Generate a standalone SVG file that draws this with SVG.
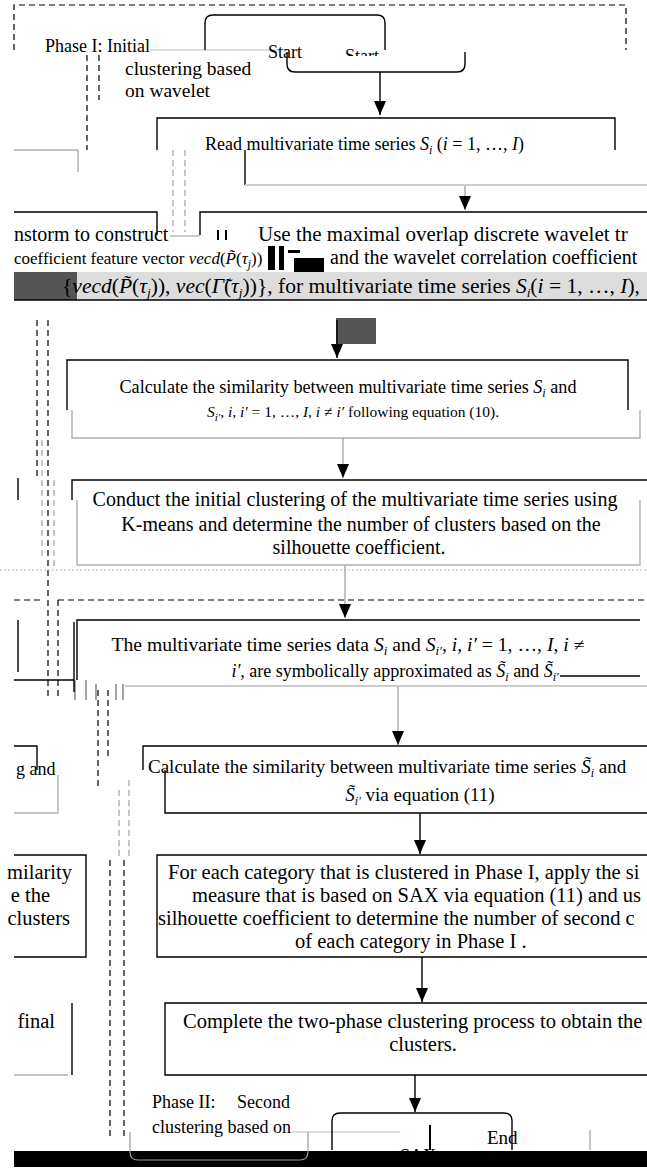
<svg xmlns="http://www.w3.org/2000/svg" width="647" height="1169" viewBox="0 0 647 1169" font-size="18">
<defs>
<style>
.t{font-family:"Liberation Serif","Times New Roman",serif;fill:#000}
.m{font-style:italic}
.box{fill:none;stroke:#000;stroke-width:1.4}
.gbox{fill:none;stroke:#b0b0b0;stroke-width:1.4}
.dash{fill:none;stroke:#000;stroke-width:1.2;stroke-dasharray:6,4}
.gdash{fill:none;stroke:#999;stroke-width:1.1;stroke-dasharray:6,4}
.conn{fill:none;stroke:#000;stroke-width:1.4}
.gconn{fill:none;stroke:#aaa;stroke-width:1.4}
</style>
<marker id="ah" markerWidth="14" markerHeight="12" refX="14" refY="6" orient="auto" markerUnits="userSpaceOnUse">
<path d="M0,0 L14,6 L0,12 z" fill="#000"/>
</marker>
<clipPath id="topclip"><rect x="0" y="0" width="647" height="56"/></clipPath>
</defs>

<g id="phase1">
<path class="dash" d="M14,50 V5 H626 V50"/>
<text class="t" x="45" y="52">Phase I: Initial</text>
<text class="t" x="125" y="75" font-size="19.5">clustering based</text>
<text class="t" x="125" y="97" font-size="19.5">on wavelet</text>
<line x1="150" y1="50" x2="287" y2="50" stroke="#bbb" stroke-width="1.2"/>
<path class="dash" d="M87,55 V150 M99,55 V100"/>
<path class="gdash" d="M173,150 V232 M185,150 V232"/>
<path class="dash" d="M37,320 V480 M48,320 V600"/>
<path class="gdash" d="M42,440 V560 M54,480 V570"/>
<line x1="0" y1="570" x2="647" y2="570" stroke="#bbb" stroke-width="1.2" stroke-dasharray="2,2"/>
</g>

<g id="start">
<path class="box" d="M205,50 V23 Q205,15 213,15 H377 Q385,15 385,23 V50"/>
<path class="box" d="M287,52 V64 Q287,72 295,72 H457 Q465,72 465,64 V52"/>
<text class="t" x="268" y="58">Start</text>
<text class="t" x="345" y="62" clip-path="url(#topclip)">Start</text>
</g>

<g id="read">
<path class="box" d="M157,150 V118 H615 V150"/>
<path class="box" d="M245,150 V185"/>
<line x1="245" y1="185" x2="647" y2="185" stroke="#ccc" stroke-width="2"/>
<text class="t" x="205" y="150">Read multivariate time series <tspan class="m">S</tspan><tspan dy="4" font-size="12" class="m">i</tspan><tspan dy="-4"> (</tspan><tspan class="m">i</tspan> = 1, …, <tspan class="m">I</tspan>)</text>
<path class="gbox" d="M14,150 H78 V172"/>
</g>

<g id="wavelet">
<path class="box" d="M14,212 H157 V235"/>
<path class="box" d="M200,235 V212 H647"/>
<text class="t" x="14" y="241" font-size="20">nstorm to construct</text>
<line x1="170" y1="236" x2="200" y2="236" stroke="#ccc" stroke-width="2"/>
<path d="M218,230 V240 M226,230 V240" stroke="#000" stroke-width="2"/>
<text class="t" x="258" y="241" font-size="21">Use the maximal overlap discrete wavelet tr</text>
<text class="t" x="14" y="264" font-size="17">coefficient feature vector <tspan class="m">vecd</tspan>(<tspan class="m">P̃</tspan>(<tspan class="m">τ</tspan><tspan dy="4" font-size="12" class="m">j</tspan><tspan dy="-4">))</tspan></text>
<rect x="268" y="246" width="7" height="24" fill="#000"/>
<rect x="279" y="246" width="5" height="24" fill="#000"/>
<rect x="288" y="250" width="12" height="3" fill="#000"/>
<rect x="294" y="258" width="30" height="14" fill="#000"/>
<text class="t" x="330" y="264" font-size="20">and the wavelet correlation coefficient</text>
<rect x="14" y="272" width="63" height="28" fill="#555"/>
<rect x="77" y="272" width="570" height="28" fill="#ddd"/>
<text class="t" x="62" y="293" font-size="21" textLength="578" lengthAdjust="spacingAndGlyphs">{<tspan class="m">vecd</tspan>(<tspan class="m">P̃</tspan>(<tspan class="m">τ</tspan><tspan dy="4" font-size="13" class="m">j</tspan><tspan dy="-4">)), </tspan><tspan class="m">vec</tspan>(<tspan class="m">Γ̃</tspan>(<tspan class="m">τ</tspan><tspan dy="4" font-size="13" class="m">j</tspan><tspan dy="-4">))}, for multivariate time series </tspan><tspan class="m">S</tspan><tspan dy="4" font-size="13" class="m">i</tspan><tspan dy="-4">(</tspan><tspan class="m">i</tspan> = 1, …, <tspan class="m">I</tspan>),</text>
<line x1="14" y1="300" x2="647" y2="300" stroke="#000" stroke-width="1.4"/>
</g>

<g id="sim10">
<path class="box" d="M67,410 V360 H628 V410"/>
<path class="gbox" d="M72,410 V438 H640 V410"/>
<text class="t" x="348" y="393" text-anchor="middle" textLength="457" lengthAdjust="spacingAndGlyphs">Calculate the similarity between multivariate time series <tspan class="m">S</tspan><tspan dy="4" font-size="12" class="m">i</tspan><tspan dy="-4">  and</tspan></text>
<text class="t" x="353" y="417" text-anchor="middle" font-size="15.5"><tspan class="m">S</tspan><tspan dy="4" font-size="11" class="m">i′</tspan><tspan dy="-4">, </tspan><tspan class="m">i</tspan>, <tspan class="m">i′</tspan> = 1, …, <tspan class="m">I</tspan>, <tspan class="m">i</tspan> ≠ <tspan class="m">i′</tspan> following equation (10).</text>
</g>

<g id="conduct">
<path class="box" d="M72,500 V480 H647"/>
<path class="gbox" d="M77,500 V565 H640 V500"/>
<line x1="18" y1="478" x2="18" y2="500" stroke="#000" stroke-width="1.4"/>
<text class="t" x="355" y="506" text-anchor="middle" font-size="20">Conduct the initial clustering of the multivariate time series using</text>
<text class="t" x="361" y="531" text-anchor="middle" font-size="20">K-means and determine the number of clusters based on the</text>
<text class="t" x="359" y="554" text-anchor="middle" font-size="20">silhouette coefficient.</text>
</g>

<g id="phase2">
<path class="dash" d="M14,600 H40 M58,600 H647"/>
<path class="dash" d="M48,600 V700 M58,600 V700"/>
<path class="dash" d="M98,690 V790 M108,690 V760"/>
<path class="gdash" d="M119,790 V860 M129,780 V860"/>
<path class="dash" d="M110,860 V1140 M124,860 V1140"/>
<path d="M75,680 V700 M86,680 V700 M96,684 V700 M116,684 V700 M123,684 V700" stroke="#666" stroke-width="1.2"/>
<text class="t" x="152" y="1108">Phase II:</text>
<text class="t" x="237" y="1108">Second</text>
<text class="t" x="152" y="1133">clustering based on</text>
<line x1="292" y1="1132" x2="400" y2="1132" stroke="#bbb" stroke-width="1.2"/>
</g>

<g id="symbolic">
<path class="box" d="M77,680 V620 H640"/>
<line x1="560" y1="676" x2="640" y2="676" stroke="#000" stroke-width="1.4"/>
<line x1="125" y1="686" x2="647" y2="686" stroke="#bbb" stroke-width="1.4"/>
<path class="box" d="M18,620 V672 M14,680 H74 M74,622 V692"/>
<text class="t" x="348" y="651" text-anchor="middle" textLength="473" lengthAdjust="spacingAndGlyphs">The multivariate time series data <tspan class="m">S</tspan><tspan dy="4" font-size="12" class="m">i</tspan><tspan dy="-4"> and </tspan><tspan class="m">S</tspan><tspan dy="4" font-size="12" class="m">i′</tspan><tspan dy="-4">, </tspan><tspan class="m">i</tspan>, <tspan class="m">i′</tspan> = 1, …, <tspan class="m">I</tspan>, <tspan class="m">i</tspan> ≠</text>
<text class="t" x="395" y="677" text-anchor="middle" fill="#333"><tspan class="m">i′</tspan>, are symbolically approximated as <tspan class="m">S̃</tspan><tspan dy="4" font-size="12" class="m">i</tspan><tspan dy="-4"> and </tspan><tspan class="m">S̃</tspan><tspan dy="4" font-size="12" class="m">i′</tspan></text>
</g>

<g id="sim11">
<path class="box" d="M143,770 V746 H647"/>
<path class="box" d="M165,770 V813 H647"/>
<text class="t" x="148" y="773" font-size="19">Calculate the similarity between multivariate time series <tspan class="m">S̃</tspan><tspan dy="4" font-size="12" class="m">i</tspan><tspan dy="-4"> and</tspan></text>
<text class="t" x="420" y="801" text-anchor="middle" font-size="19"><tspan class="m">S̃</tspan><tspan dy="4" font-size="12" class="m">i′</tspan><tspan dy="-4">  via equation (11)</tspan></text>
<path class="box" d="M14,746 H37 V770"/>
<text class="t" x="16" y="775">g and</text>
<path class="gbox" d="M58,775 V813 H14"/>
</g>

<g id="category">
<path class="box" d="M647,855 H157 V957 H647"/>
<text class="t" x="168" y="879" font-size="20.5">For each category that is clustered in Phase I, apply the si</text>
<text class="t" x="192" y="902" font-size="20.5">measure that is based on SAX via equation (11) and us</text>
<text class="t" x="158" y="925" font-size="20.5">silhouette coefficient to determine the number of second c</text>
<text class="t" x="295" y="948" font-size="20.5">of each category in Phase I .</text>
<path class="box" d="M14,855 H86 V957 H14"/>
<text class="t" x="72" y="879" font-size="20.5" text-anchor="end">milarity</text>
<text class="t" x="50" y="902" font-size="20.5" text-anchor="end">e the</text>
<text class="t" x="70" y="925" font-size="20.5" text-anchor="end">clusters</text>
</g>

<g id="complete">
<path class="box" d="M647,1003 H165 V1075 H647"/>
<text class="t" x="183" y="1028" font-size="20.5">Complete the two-phase clustering process to obtain the</text>
<text class="t" x="423" y="1051" font-size="20.5" text-anchor="middle">clusters.</text>
<text class="t" x="55" y="1028" font-size="20.5" text-anchor="end">final</text>
<path class="gbox" d="M14,1075 H68"/>
<path class="box" d="M72,1003 V1075"/>
</g>

<g id="end">
<rect x="14" y="1151" width="633" height="16" fill="#000"/>
<path class="box" d="M332,1150 V1121 Q332,1113 340,1113 H504 Q512,1113 512,1121 V1150"/>
<text class="t" x="487" y="1144" font-size="19">End</text>
<line x1="430" y1="1125" x2="430" y2="1150" stroke="#000" stroke-width="2"/>
<line x1="590" y1="1130" x2="590" y2="1150" stroke="#888" stroke-width="1"/>
<text class="t" x="400" y="1162">SAX</text>
<path d="M130,1132 V1152 Q130,1160 138,1160 H300 Q308,1160 308,1152 V1132" fill="none" stroke="#999" stroke-width="1.2"/>
</g>

<g id="connectors">
<line class="conn" x1="380" y1="72" x2="380" y2="115" marker-end="url(#ah)"/>
<line class="gconn" x1="465" y1="186" x2="465" y2="210" marker-end="url(#ah)"/>
<rect x="336" y="318" width="40" height="26" fill="#555"/>
<line class="conn" x1="337" y1="320" x2="337" y2="358" marker-end="url(#ah)"/>
<line class="gconn" x1="343" y1="438" x2="343" y2="478" marker-end="url(#ah)"/>
<line class="gconn" x1="345" y1="565" x2="345" y2="618" marker-end="url(#ah)"/>
<line class="gconn" x1="398" y1="687" x2="398" y2="745" marker-end="url(#ah)"/>
<line class="conn" x1="420" y1="813" x2="420" y2="854" marker-end="url(#ah)"/>
<line class="conn" x1="422" y1="957" x2="422" y2="1002" marker-end="url(#ah)"/>
<line class="conn" x1="415" y1="1075" x2="415" y2="1112" marker-end="url(#ah)"/>
</g>
</svg>
